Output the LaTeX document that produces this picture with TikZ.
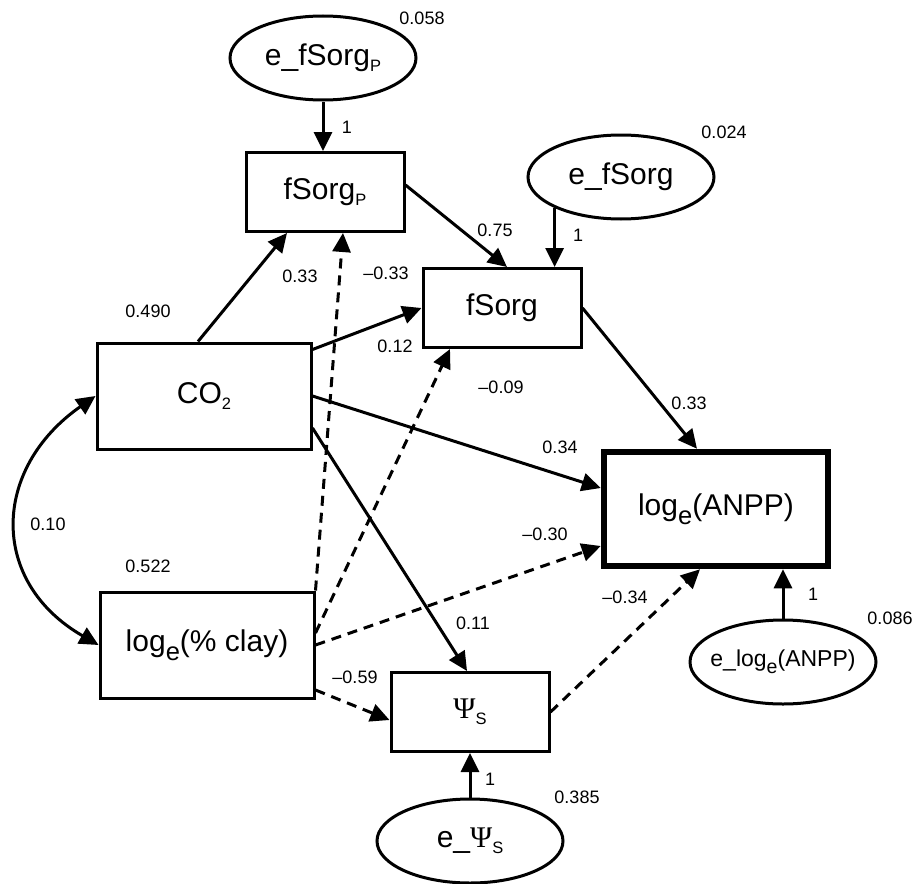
\documentclass[tikz,border=0pt]{standalone}
\usepackage{fontspec}
\setmainfont{Liberation Sans}
\newfontfamily\serifgr{Liberation Serif}
\usetikzlibrary{arrows.meta,shapes.geometric,positioning}
\newcommand{\ssub}[1]{\raisebox{-.2em}{\scalebox{.55}{#1}}}
\newcommand{\lsub}[1]{\raisebox{-.3em}{\scalebox{.85}{#1}}}
\newcommand{\psis}{{\serifgr Ψ}\ssub{S}}
\tikzstyle{var}=[draw,rectangle,line width=3pt,minimum width=158pt,
  minimum height=79pt,font=\fontsize{30}{34}\selectfont]
\tikzstyle{bigvar}=[var,minimum width=214pt,minimum height=106pt]
\tikzstyle{err}=[draw,ellipse,line width=3pt,inner sep=0pt,minimum
  width=186pt,minimum height=84pt,font=\fontsize{30}{34}\selectfont]
\tikzstyle{eff}=[->,line width=3pt]
\tikzstyle{negeff}=[eff,dash pattern=on 10pt off 7pt]
\tikzstyle{lab}=[inner sep=0pt]

\begin{document}
\begin{tikzpicture}[x=1pt,y=-1pt,>={Triangle[length=19pt,width=18pt]},
    font=\fontsize{18}{20}\selectfont]
  \useasboundingbox (0,0) rectangle (915,883);
  \node[err]  (efp)  at (323,58)  {e\_fSorg\ssub{P}};
  \node[var]  (fp)   at (325,192) {fSorg\ssub{P}};
  \node[err]  (efs)  at (621,177) {e\_fSorg};
  \node[var]  (fs)   at (502,308) {fSorg};
  \node[bigvar] (co2)  at (204,396) {CO\ssub{2}};
  \node[bigvar] (clay) at (207,645) {log\lsub{e}(\% clay)};
  \node[var]  (psi)  at (470,712) {\psis};
  \node[err]  (epsi) at (470,841) {e\_\psis};
  \node[bigvar, line width=6.5pt, minimum width=224pt, minimum height=114pt]
              (anpp) at (716,509) {log\lsub{e}(ANPP)};
  \node[err, font=\fontsize{23}{26}\selectfont]
              (eanpp) at (783,662) {\makebox[110pt]{e\_log\lsub{e}(ANPP)}};

  % solid paths
  \draw[eff] (efp.south) -- (efp.south |- fp.north);
  \draw[eff] (efs.205) -- (efs.205 |- fs.north);
  \draw[eff] (eanpp.north) -- (eanpp.north |- anpp.south);
  \draw[eff] (epsi.north) -- (psi.south);
  \draw[eff] ([yshift=7pt]fp.east) -- ([xshift=5pt]fs.north);
  \draw[eff] ([xshift=-6pt]co2.north) -- ([xshift=-38pt]fp.south);
  \draw[eff] ([yshift=-8pt]co2.north east) -- (fs.west);
  \draw[eff] (co2.east) -- ([yshift=21pt]anpp.west);
  \draw[eff] ([yshift=-32pt]co2.east) -- ([xshift=-3pt]psi.north);
  \draw[eff] (fs.east) -- ([xshift=-19pt]anpp.north);
  \draw[eff, <->] (co2.west) to[out=215, in=150, looseness=1.3] (clay.west);

  % dashed paths
  \draw[negeff] (clay.north east) -- ([xshift=18pt]fp.south);
  \draw[negeff] ([yshift=12pt]clay.east) -- ([xshift=-52pt]fs.south);
  \draw[negeff] (clay.east) -- ([yshift=-37pt]anpp.west);
  \draw[negeff] ([yshift=-45pt]clay.east) -- ([yshift=-8pt]psi.west);
  \draw[negeff] (psi.east) -- ([xshift=-16pt]anpp.south);

  % coefficients
  \node[lab] (vfp)   at (422,18)  {0.058};
  \node[lab] (wefp)  at (347,127) {1};
  \node[lab] (vfs)   at (724,132) {0.024};
  \node[lab] (wefs)  at (578,235) {1};
  \node[lab] (wfpfs) at (495,230) {0.75};
  \node[lab] (wcofp) at (300,276) {0.33};
  \node[lab] (wclfp) at (386,273) {–0.33};
  \node[lab] (vco2)  at (148,311) {0.490};
  \node[lab] (wcofs) at (395,346) {0.12};
  \node[lab] (wclfs) at (501,387) {–0.09};
  \node[lab] (wfsan) at (689,403) {0.33};
  \node[lab] (wcoan) at (560,447) {0.34};
  \node[lab] (wcocl) at (48,524)  {0.10};
  \node[lab] (wclan) at (545,534) {–0.30};
  \node[lab] (vclay) at (148,566) {0.522};
  \node[lab] (wpsan) at (625,597) {–0.34};
  \node[lab] (wean)  at (813,594) {1};
  \node[lab] (vanpp) at (890,618) {0.086};
  \node[lab] (wcops) at (473,623) {0.11};
  \node[lab] (wclps) at (355,677) {–0.59};
  \node[lab] (weps)  at (490,779) {1};
  \node[lab] (vpsi)  at (577,797) {0.385};
\end{tikzpicture}
\end{document}
